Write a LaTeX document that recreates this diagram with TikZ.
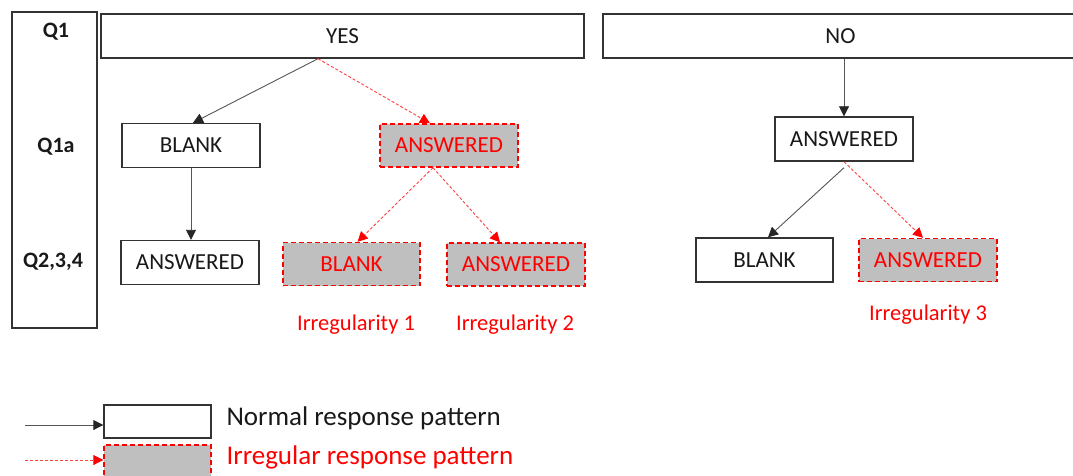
\documentclass[tikz,border=0pt]{standalone}
\usepackage{fontspec}
\setmainfont{Carlito}
\usetikzlibrary{arrows.meta}
\definecolor{edge}{HTML}{333333}
\definecolor{ln}{HTML}{555555}
\definecolor{gfill}{HTML}{BFBFBF}
\tikzset{
  x=1pt,y=-1pt,
  lbl/.style={font=\fontsize{23}{25}\selectfont, text=black!90},
  qlbl/.style={font=\fontsize{22}{24}\selectfont\bfseries, text=black!90},
  nbox/.style={draw=edge, line width=1.4pt, fill=white, inner sep=0pt, minimum width=138pt, minimum height=44pt, lbl},
  rbox/.style={draw=red, line width=1.4pt, dash pattern=on 5pt off 3pt, fill=gfill, inner sep=0pt, minimum width=138pt, minimum height=43pt, font=\fontsize{23}{25}\selectfont, text=red},
  narr/.style={draw=ln, line width=0.9pt, -{Triangle[length=10pt,width=10pt,color=black!85]}},
  rarr/.style={draw=red!75, line width=0.9pt, dash pattern=on 3pt off 2pt, -{Triangle[length=10pt,width=10pt,color=red]}},
  irr/.style={font=\fontsize{22.5}{24}\selectfont, text=red},
  leg/.style={font=\fontsize{27}{29}\selectfont, anchor=west}
}
\begin{document}
\begin{tikzpicture}
\useasboundingbox (0,0) rectangle (1073,476);
% left column
\node[draw=edge, line width=1.4pt, minimum width=85pt, minimum height=316pt, inner sep=0pt] (col) at (54.5,170) {};
\node[qlbl] (q1) at (56,32) {Q1};
\node[qlbl] (q1a) at (56,147) {Q1a};
\node[qlbl] (q234) at (53,262) {Q2,3,4};
% top boxes
\node[nbox, minimum width=483pt] (yes) at (342.5,36) {YES};
\node[nbox, minimum width=475pt] (no) at (840.5,36) {NO};
% YES branch
\node[nbox] (blank1) at (191,145.5) {BLANK};
\node[rbox] (ans1r) at (449,145.5) {ANSWERED};
\node[nbox] (ans2) at (190,262.5) {ANSWERED};
\node[rbox, minimum width=137pt] (blank2r) at (351.5,264) {BLANK};
\node[rbox] (ans3r) at (516,264.5) {ANSWERED};
\node[irr] (irr1) at (356,325) {Irregularity 1};
\node[irr] (irr2) at (515,325) {Irregularity 2};
% NO branch
\node[nbox] (ans4) at (844,139) {ANSWERED};
\node[nbox, minimum width=137pt] (blank4) at (764.5,260) {BLANK};
\node[rbox] (ans4r) at (928,260) {ANSWERED};
\node[irr] (irr3) at (928,315) {Irregularity 3};
% connectors
\draw[narr] ([xshift=-24.5pt]yes.south) -- ([xshift=2pt]blank1.north);
\draw[rarr] ([xshift=-24.5pt]yes.south) -- ([xshift=-19pt]ans1r.north);
\draw[narr] (blank1.south) -- (blank1.south |- ans2.north);
\draw[rarr] ([xshift=-16pt]ans1r.south) -- ([xshift=6pt]blank2r.north);
\draw[rarr] ([xshift=-16pt]ans1r.south) -- ([xshift=-16pt]ans3r.north);
\draw[narr] (no.south -| ans4.north) -- (ans4.north);
\draw[narr] ([yshift=-6pt]ans4.south) -- ([xshift=3.5pt]blank4.north);
\draw[rarr] (ans4.south) -- ([xshift=-5pt]ans4r.north);
% legend
\node[nbox, minimum width=107pt, minimum height=33pt] (legn) at (157.5,421.5) {};
\node[rbox, minimum width=107pt, minimum height=33pt] (legr) at (157.5,461.5) {};
\coordinate (la) at (25,425);
\coordinate (lb) at (25,460);
\draw[narr] (la) -- (la -| legn.west);
\draw[rarr] (lb) -- (lb -| legr.west);
\node[leg, text=black!90] (tn) at (223,418) {Normal response pattern};
\node[leg, text=red] (tr) at (223,457) {Irregular response pattern};
\end{tikzpicture}
\end{document}
